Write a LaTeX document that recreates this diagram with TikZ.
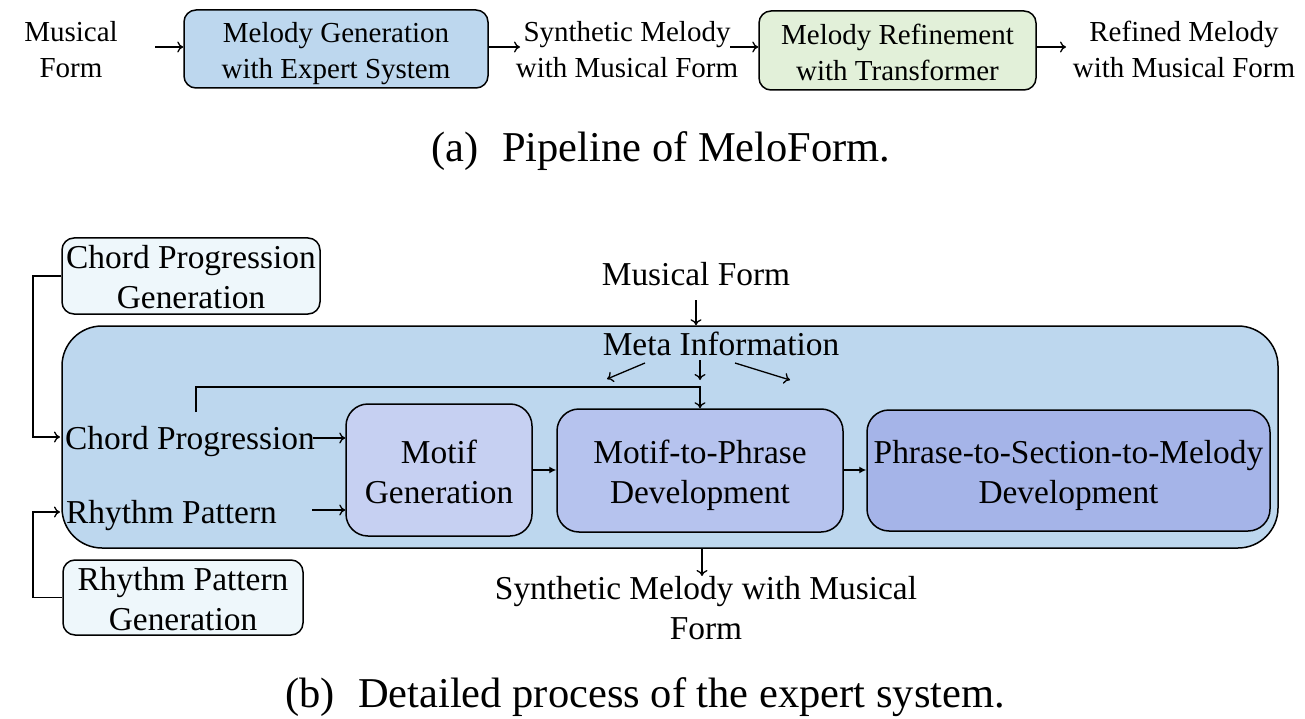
\documentclass[tikz,border=0pt]{standalone}
\usepackage{fontspec}
\setmainfont{Liberation Serif}
\usetikzlibrary{arrows.meta}
\definecolor{boxblue}{HTML}{BDD7EE}
\definecolor{boxgreen}{HTML}{E2F0D9}
\definecolor{genbox}{HTML}{EEF7FB}
\definecolor{motifc}{HTML}{C6D0F2}
\definecolor{mtpc}{HTML}{B6C3EE}
\definecolor{ptsc}{HTML}{A5B4E8}
\newcommand\fsa{\fontsize{29}{36}\selectfont}
\newcommand\fsb{\fontsize{33.4}{40}\selectfont}
\newcommand\fsc{\fontsize{42.5}{48}\selectfont}
\begin{document}
\begin{tikzpicture}[x=1pt,y=-1pt,
  box/.style={draw, line width=1.5pt, rounded corners=12pt, inner sep=0pt},
  lbl/.style={align=center, inner sep=0pt},
  arr/.style={line width=1.3pt, -{To[length=6pt,width=11pt]}},
  sarr/.style={line width=1.3pt, -{Latex[length=7pt,width=7pt]}}]
\useasboundingbox (0,0) rectangle (1305,719);
% ---------- (a) ----------
\node[lbl, font=\fsa] (mf) at (71,50) {Musical\\Form};
\node[box, fill=boxblue, minimum width=304pt, minimum height=78pt] (g) at (336,49) {};
\node[lbl, font=\fsa] (gt) at ([yshift=-5pt]g.center) {Melody Generation\\with Expert System};
\node[lbl, font=\fsa] (syn) at (627,50) {Synthetic Melody\\with Musical Form};
\node[box, fill=boxgreen, minimum width=277pt, minimum height=79pt] (r) at (897.5,50.5) {};
\node[lbl, font=\fsa] (rt) at ([yshift=-2pt]r.center) {Melody Refinement\\with Transformer};
\node[lbl, font=\fsa] (ref) at (1184,49.5) {Refined Melody\\with Musical Form};
\coordinate (a1) at (155,47);
\draw[arr] (a1) -- (a1 -| g.west);
\coordinate (a2) at (520,47);
\draw[arr] (g.east |- a2) -- (a2);
\coordinate (a3) at (730,47);
\draw[arr] (a3) -- (a3 -| r.west);
\coordinate (a4) at (1066,47);
\draw[arr] (r.east |- a4) -- (a4);
\node[lbl, font=\fsc, anchor=base] (capa) at (661,162) {(a)\hspace{0.55em}Pipeline of MeloForm.};
% ---------- (b) ----------
\node[box, fill=genbox, minimum width=258pt, minimum height=76pt] (cpg) at (191,276) {};
\node[lbl, font=\fsb] (cpgt) at ([yshift=-1.5pt]cpg.center) {Chord Progression\\Generation};
\node[box, fill=genbox, minimum width=240pt, minimum height=75pt] (rpg) at (183,597.5) {};
\node[lbl, font=\fsb] (rpgt) at ([yshift=-2pt]rpg.center) {Rhythm Pattern\\Generation};
\node[box, fill=boxblue, rounded corners=40pt, minimum width=1216pt, minimum height=222pt] (big) at (670,437) {};
\node[lbl, font=\fsb, anchor=base] (mfb) at (696,285) {Musical Form};
\node[lbl, font=\fsb, anchor=base] (meta) at (721,355) {Meta Information};
\node[box, fill=motifc, rounded corners=22pt, minimum width=186pt, minimum height=132pt] (motif) at (439,470) {};
\node[lbl, font=\fsb] (motift) at ([yshift=-2pt]motif.center) {Motif\\Generation};
\node[box, fill=mtpc, rounded corners=22pt, minimum width=286pt, minimum height=123pt] (m2p) at (700,470.5) {};
\node[lbl, font=\fsb] (m2pt) at ([yshift=-5pt]m2p.center) {Motif-to-Phrase\\Development};
\node[box, fill=ptsc, rounded corners=22pt, minimum width=403pt, minimum height=121pt] (p2s) at (1068.5,470.5) {};
\node[lbl, font=\fsb] (p2st) at ([yshift=-5pt]p2s.center) {Phrase-to-Section-to-Melody\\Development};
\node[lbl, font=\fsb, anchor=base west] (cp) at (65,449) {Chord Progression};
\node[lbl, font=\fsb, anchor=base west] (rp) at (66,523) {Rhythm Pattern};
\node[lbl, font=\fsb, anchor=north] (synb) at (706,576) {Synthetic Melody with Musical\\Form};
\node[lbl, font=\fsc, anchor=base] (capb) at (645,707) {(b)\hspace{0.55em}Detailed process of the expert system.};
% connectors
\coordinate (b1) at (696,300);
\draw[arr] (b1) -- (b1 |- big.north);
\coordinate (m1s) at (645,363); \coordinate (m1e) at (607,379);
\draw[arr] (m1s) -- (m1e);
\coordinate (m2s) at (700,360); \coordinate (m2e) at (700,380);
\draw[arr] (m2s) -- (m2e);
\coordinate (m3s) at (735,363); \coordinate (m3e) at (790,380);
\draw[arr] (m3s) -- (m3e);
\coordinate (c1) at (196,412);
\coordinate (c2) at (700,387);
\draw[arr] (c1) |- (c2) -- (m2p.north);
\coordinate (cpe) at (313,438);
\draw[arr] (cpe) -- (cpe -| motif.west);
\coordinate (rpe) at (312,510);
\draw[arr] (rpe) -- (rpe -| motif.west);
\coordinate (mm) at (0,470);
\draw[sarr] (motif.east |- mm) -- (m2p.west |- mm);
\draw[sarr] (m2p.east |- mm) -- (p2s.west |- mm);
\coordinate (s1) at (702,548);
\draw[arr] (s1) -- (702,576);
\coordinate (l1) at (33,437);
\coordinate (l1e) at (60,437);
\draw[arr] (cpg.west) -| (l1) -- (l1e);
\coordinate (l2) at (33,512);
\coordinate (l2e) at (60,512);
\draw[arr] (rpg.west) -| (l2) -- (l2e);
\end{tikzpicture}
\end{document}
